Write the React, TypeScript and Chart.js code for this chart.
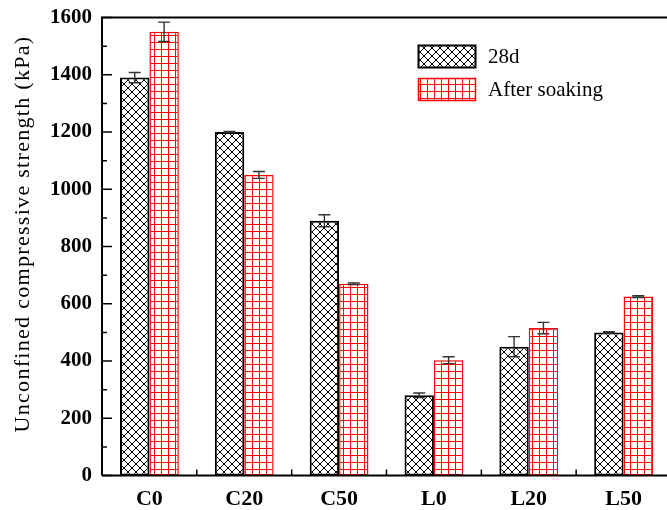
import { useEffect, useRef } from "react";
import { Chart, registerables } from "chart.js";

Chart.register(...registerables);

// Strength of each mix (kPa) with standard deviations for the error bars
const categories = ["C0", "C20", "C50", "L0", "L20", "L50"];
const seriesLabels = ["28d", "After soaking"];
const strength28d = [1390, 1200, 890, 280, 450, 500];
const error28d = [18, 2, 21, 8, 35, 2];
const strengthSoaked = [1550, 1050, 670, 403, 515, 625];
const errorSoaked = [34, 12, 3, 12, 20, 3];
const yTickValues = [0, 200, 400, 600, 800, 1000, 1200, 1400, 1600];
const yAxisTitle = "Unconfined compressive strength (kPa)";

const SERIF = "'Liberation Serif', 'Times New Roman', serif";

function crossHatch(): CanvasPattern {
  const s = 8;
  const c = document.createElement("canvas");
  c.width = s;
  c.height = s;
  const g = c.getContext("2d")!;
  g.fillStyle = "#ffffff";
  g.fillRect(0, 0, s, s);
  g.strokeStyle = "#000000";
  g.lineWidth = 1;
  g.beginPath();
  for (const k of [-s, 0, s]) {
    g.moveTo(k - 1, -1);
    g.lineTo(k + s + 1, s + 1);
    g.moveTo(k + s + 1, -1);
    g.lineTo(k - 1, s + 1);
  }
  g.stroke();
  return g.createPattern(c, "repeat")!;
}

function redGrid(): CanvasPattern {
  const s = 7;
  const c = document.createElement("canvas");
  c.width = s;
  c.height = s;
  const g = c.getContext("2d")!;
  g.fillStyle = "#ffffff";
  g.fillRect(0, 0, s, s);
  g.fillStyle = "#ff0000";
  g.fillRect(0, 0, s, 1);
  g.fillRect(0, 0, 1, s);
  return g.createPattern(c, "repeat")!;
}

const errorBars = {
  id: "errorBars",
  afterDatasetsDraw(chart: any) {
    const { ctx } = chart;
    const y = chart.scales.y;
    ctx.save();
    ctx.strokeStyle = "#333333";
    ctx.lineWidth = 1.4;
    chart.data.datasets.forEach((ds: any, i: number) => {
      const meta = chart.getDatasetMeta(i);
      meta.data.forEach((bar: any, j: number) => {
        const v = ds.data[j] as number;
        const e = ds.errors[j] as number;
        const x = bar.x;
        const top = y.getPixelForValue(v + e);
        const bot = y.getPixelForValue(v - e);
        ctx.beginPath();
        ctx.moveTo(x, top);
        ctx.lineTo(x, bot);
        ctx.moveTo(x - 6, top);
        ctx.lineTo(x + 6, top);
        ctx.moveTo(x - 6, bot);
        ctx.lineTo(x + 6, bot);
        ctx.stroke();
      });
    });
    ctx.restore();
  },
};

const frame = {
  id: "frame",
  afterDraw(chart: any) {
    const { ctx, chartArea: a } = chart;
    const y = chart.scales.y;
    ctx.save();
    ctx.strokeStyle = "#000000";
    ctx.lineWidth = 2;
    ctx.beginPath();
    ctx.moveTo(a.left, a.bottom);
    ctx.lineTo(a.left, a.top);
    ctx.lineTo(a.right, a.top);
    ctx.lineTo(a.right, a.bottom);
    ctx.lineTo(a.left, a.bottom);
    ctx.stroke();

    // inward ticks on the value axis, with minor ticks halfway
    ctx.lineWidth = 1.5;
    ctx.beginPath();
    for (let i = 0; i < yTickValues.length; i++) {
      const py = y.getPixelForValue(yTickValues[i]);
      ctx.moveTo(a.left, py);
      ctx.lineTo(a.left + 10, py);
      if (i < yTickValues.length - 1) {
        const pm = y.getPixelForValue((yTickValues[i] + yTickValues[i + 1]) / 2);
        ctx.moveTo(a.left, pm);
        ctx.lineTo(a.left + 5, pm);
      }
    }
    // upward ticks between the groups
    const n = categories.length;
    const w = (a.right - a.left) / n;
    for (let i = 1; i < n; i++) {
      const px = a.left + i * w;
      ctx.moveTo(px, a.bottom);
      ctx.lineTo(px, a.bottom - 6);
    }
    ctx.stroke();

    // rotated axis title
    ctx.fillStyle = "#000000";
    ctx.font = `22px ${SERIF}`;
    (ctx as any).letterSpacing = "1.3px";
    ctx.textAlign = "center";
    ctx.textBaseline = "middle";
    ctx.translate(23, 234);
    ctx.rotate(-Math.PI / 2);
    ctx.fillText(yAxisTitle, 0, 0);
    ctx.restore();
  },
};

const legendBoxes = {
  id: "legendBoxes",
  afterDraw(chart: any) {
    const { ctx } = chart;
    const rows = [
      { y: 45, base: 63 },
      { y: 78, base: 96 },
    ];
    ctx.save();
    chart.data.datasets.forEach((ds: any, i: number) => {
      const r = rows[i];
      ctx.fillStyle = ds.backgroundColor;
      ctx.fillRect(418, r.y, 57, 22);
      ctx.strokeStyle = ds.borderColor;
      ctx.lineWidth = ds.borderWidth;
      ctx.strokeRect(418.5, r.y + 0.5, 57, 22);
      ctx.fillStyle = "#000000";
      ctx.font = `21px ${SERIF}`;
      ctx.textAlign = "left";
      ctx.textBaseline = "alphabetic";
      ctx.fillText(ds.label, 488, r.base);
    });
    ctx.restore();
  },
};

export default function App() {
  const ref = useRef<HTMLCanvasElement | null>(null);

  useEffect(() => {
    if (!ref.current) return;
    const chart = new Chart(ref.current, {
      type: "bar",
      data: {
        labels: categories,
        datasets: [
          {
            label: seriesLabels[0],
            data: strength28d,
            errors: error28d,
            backgroundColor: crossHatch(),
            borderColor: "#000000",
            borderWidth: 2,
            borderSkipped: false,
          } as any,
          {
            label: seriesLabels[1],
            data: strengthSoaked,
            errors: errorSoaked,
            backgroundColor: redGrid(),
            borderColor: "#ff0000",
            borderWidth: 1.5,
            borderSkipped: false,
          } as any,
        ],
      },
      options: {
        responsive: false,
        animation: false,
        events: [],
        layout: { padding: { left: 0, top: 17.5, right: 9, bottom: 0 } },
        datasets: { bar: { categoryPercentage: 0.62, barPercentage: 1 } },
        plugins: {
          legend: { display: false },
          tooltip: { enabled: false },
        },
        scales: {
          x: {
            grid: { display: false, drawTicks: false },
            border: { display: false },
            ticks: {
              color: "#000000",
              font: { family: SERIF, size: 22, weight: "bold" },
              padding: 11,
              maxRotation: 0,
            },
            afterFit: (s: any) => {
              s.height = 34.5;
              s.paddingLeft = 0;
              s.paddingRight = 0;
            },
          },
          y: {
            min: 0,
            max: 1600,
            grid: { display: false, drawTicks: false },
            border: { display: false },
            afterBuildTicks: (s: any) => {
              s.ticks = yTickValues.map((v) => ({ value: v }));
            },
            ticks: {
              color: "#000000",
              font: { family: SERIF, size: 21, weight: "bold" },
              padding: 10,
              callback: (v: any) => String(v),
            },
            afterFit: (s: any) => {
              s.width = 102;
              s.paddingTop = 0;
              s.paddingBottom = 0;
            },
          },
        },
      },
      plugins: [errorBars, frame, legendBoxes],
    });
    return () => chart.destroy();
  }, []);

  return (
    <div
      style={{
        position: "absolute",
        left: 0,
        top: 0,
        width: 667,
        height: 510,
        overflow: "hidden",
        background: "#ffffff",
      }}
    >
      <canvas ref={ref} width={680} height={510} style={{ display: "block" }} />
    </div>
  );
}
